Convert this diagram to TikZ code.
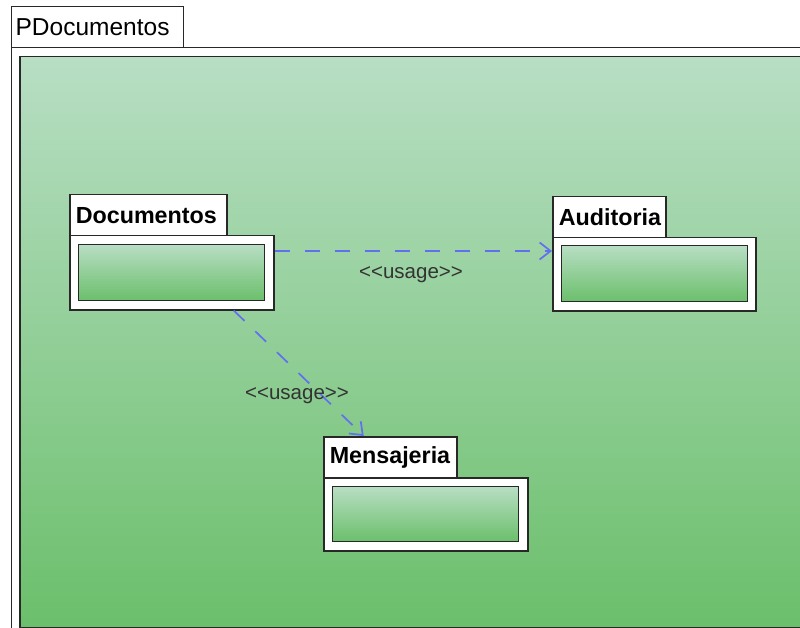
\documentclass[tikz,border=0pt]{standalone}
\usepackage{fontspec}
\setmainfont{Liberation Sans}
\usetikzlibrary{arrows.meta,calc}
\definecolor{gtop}{RGB}{184,222,196}
\definecolor{gbot}{RGB}{107,191,107}
\definecolor{usageblue}{RGB}{98,112,240}
\definecolor{edge}{RGB}{40,40,40}
\tikzset{
  frametab/.style={draw=edge,line width=1.3pt,fill=white,anchor=north west,inner xsep=4pt,inner ysep=0pt,
     font=\fontsize{24.5}{28}\selectfont,align=left},
  pkgtab/.style={draw=edge,line width=1.5pt,fill=white,anchor=north west,inner xsep=6pt,inner ysep=0pt,
     font=\bfseries\fontsize{23.3}{26}\selectfont,align=left},
  pkgbody/.style={draw=edge,line width=1.5pt,fill=white,anchor=north west,inner sep=0pt},
  pkginner/.style={draw=edge,line width=1.3pt,top color=gtop,bottom color=gbot,anchor=north west,inner sep=0pt},
  usage/.style={draw=usageblue,line width=1.7pt,dash pattern=on 15pt off 15pt,
     -{Straight Barb[length=11pt,width=17pt,line width=1.7pt]}},
  usagelbl/.style={font=\fontsize{20.5}{24}\selectfont,text=black!80,inner sep=0pt}
}
\begin{document}
\begin{tikzpicture}[x=1pt,y=-1pt]
\useasboundingbox (0,0) rectangle (800,628);
\clip (0,0) rectangle (800,628);
% outer frame
\node[frametab,minimum width=172pt,minimum height=41pt,text width=164pt] (ftab) at (11,6) {PDocumentos};
\node[pkgbody,draw=edge,line width=1.3pt,minimum width=820pt,minimum height=620pt] (fbody) at (11,47) {};
\node[pkginner,minimum width=800pt,minimum height=571pt,line width=1.5pt] (fin) at (19,56) {};
% Documentos
\node[pkgtab,minimum width=157pt,minimum height=41pt,text width=145pt] (dtab) at (69,194) {Documentos};
\node[pkgbody,minimum width=204pt,minimum height=74pt] (dbody) at (69,235) {};
\node[pkginner,minimum width=186pt,minimum height=56pt] (din) at (78,244) {};
% Auditoria
\node[pkgtab,minimum width=113pt,minimum height=41pt,text width=101pt] (atab) at (552,196) {Auditoria};
\node[pkgbody,minimum width=203pt,minimum height=73pt] (abody) at (552,237) {};
\node[pkginner,minimum width=186pt,minimum height=56pt] (ain) at (561,245) {};
% Mensajeria
\node[pkgtab,minimum width=133pt,minimum height=41pt,text width=121pt] (mtab) at (323,436) {Mensajeria};
\node[pkgbody,minimum width=204pt,minimum height=73pt] (mbody) at (323,477) {};
\node[pkginner,minimum width=186pt,minimum height=55pt] (min) at (332,486) {};
% connectors
\draw[usage] ([yshift=-16pt]dbody.north east) -- ([yshift=-16pt]dbody.north east -| abody.west);
\draw[usage] ([xshift=62pt]dbody.south) -- ([xshift=-26.5pt]mtab.north);
\node[usagelbl] (l1) at (411,275) {<{}<usage>{}>};
\node[usagelbl] (l2) at (297,396) {<{}<usage>{}>};
\end{tikzpicture}
\end{document}
